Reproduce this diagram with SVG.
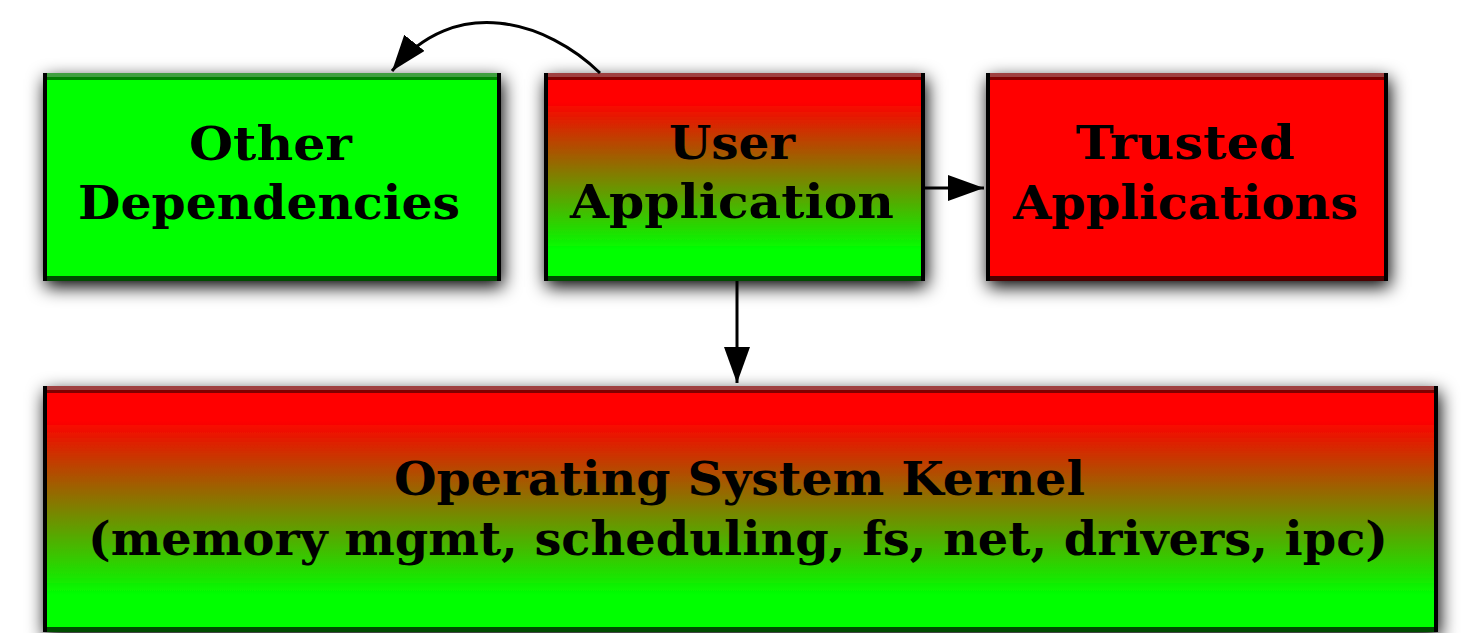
<svg xmlns="http://www.w3.org/2000/svg" width="1461" height="633" viewBox="0 0 1461 633">
  <defs>
    <style>
      .lbl { font-family: "DejaVu Serif", "Liberation Serif", serif; font-weight: bold; font-size: 46px; fill: #000; }
      .edge { fill: none; stroke: #000; stroke-width: 3; }
      .side { fill: #000; }
      .topband { fill: #000; opacity: 0.5; }
      .topedge { fill: #fff; opacity: 0.25; }
      .botband { fill: #000; opacity: 0.7; }
    </style>
    <!-- soft shadow under every box -->
    <filter id="shadow" x="-10%" y="-25%" width="120%" height="155%">
      <feGaussianBlur in="SourceAlpha" stdDeviation="9"/>
      <feOffset dx="2" dy="6" result="blur"/>
      <feComponentTransfer><feFuncA type="linear" slope="1"/></feComponentTransfer>
      <feMerge><feMergeNode/><feMergeNode in="SourceGraphic"/></feMerge>
    </filter>
    <!-- red at the top fading to green at the bottom -->
    <linearGradient id="redGreen" x1="0" y1="0" x2="0" y2="1">
      <stop offset="0.14" stop-color="#ff0000"/>
      <stop offset="0.85" stop-color="#00ff00"/>
    </linearGradient>
    <marker id="head" markerUnits="userSpaceOnUse" markerWidth="38" markerHeight="28" refX="36" refY="13" orient="auto">
      <path d="M0,0 L36,13 L0,26 z" fill="#000"/>
    </marker>
  </defs>
  <rect width="1461" height="633" fill="#fff"/>

  <g id="other-dependencies">
    <rect x="43" y="73" width="458" height="208" fill="#00ff00" filter="url(#shadow)"/>
    <rect class="topband" x="43" y="73" width="458" height="7"/>
    <rect class="topedge" x="43" y="73" width="458" height="4"/>
    <rect class="botband" x="43" y="276" width="458" height="5"/>
    <rect class="side" x="43" y="73" width="4" height="208"/>
    <rect class="side" x="497" y="73" width="4" height="208"/>
    <text class="lbl" x="189" y="160" textLength="163" lengthAdjust="spacingAndGlyphs">Other</text>
    <text class="lbl" x="78" y="219" textLength="382" lengthAdjust="spacingAndGlyphs">Dependencies</text>
  </g>

  <g id="user-application">
    <rect x="544" y="73" width="381" height="208" fill="url(#redGreen)" filter="url(#shadow)"/>
    <rect class="topband" x="544" y="73" width="381" height="7"/>
    <rect class="topedge" x="544" y="73" width="381" height="4"/>
    <rect class="botband" x="544" y="276" width="381" height="5"/>
    <rect class="side" x="544" y="73" width="4" height="208"/>
    <rect class="side" x="921" y="73" width="4" height="208"/>
    <text class="lbl" x="669" y="159" textLength="126" lengthAdjust="spacingAndGlyphs">User</text>
    <text class="lbl" x="570" y="218" textLength="324" lengthAdjust="spacingAndGlyphs">Application</text>
  </g>

  <g id="trusted-applications">
    <rect x="986" y="73" width="402" height="208" fill="#ff0000" filter="url(#shadow)"/>
    <rect class="topband" x="986" y="73" width="402" height="7"/>
    <rect class="topedge" x="986" y="73" width="402" height="4"/>
    <rect class="botband" x="986" y="276" width="402" height="5"/>
    <rect class="side" x="986" y="73" width="4" height="208"/>
    <rect class="side" x="1384" y="73" width="4" height="208"/>
    <text class="lbl" x="1076" y="159" textLength="219" lengthAdjust="spacingAndGlyphs">Trusted</text>
    <text class="lbl" x="1013" y="219" textLength="345" lengthAdjust="spacingAndGlyphs">Applications</text>
  </g>

  <g id="kernel">
    <rect x="43" y="386" width="1395" height="246" fill="url(#redGreen)" filter="url(#shadow)"/>
    <rect class="topband" x="43" y="386" width="1395" height="7"/>
    <rect class="topedge" x="43" y="386" width="1395" height="4"/>
    <rect class="botband" x="43" y="627" width="1395" height="5"/>
    <rect class="side" x="43" y="386" width="4" height="246"/>
    <rect class="side" x="1434" y="386" width="4" height="246"/>
    <text class="lbl" x="394" y="495" textLength="691" lengthAdjust="spacingAndGlyphs">Operating System Kernel</text>
    <text class="lbl" x="88" y="555" textLength="1300" lengthAdjust="spacingAndGlyphs">(memory mgmt, scheduling, fs, net, drivers, ipc)</text>
  </g>

  <g id="connectors">
    <path class="edge" d="M600,73 C548,22 455,-8 392,71" marker-end="url(#head)"/>
    <path class="edge" d="M925,188 L984,188" marker-end="url(#head)"/>
    <path class="edge" d="M737,281 L737,383" marker-end="url(#head)"/>
  </g>
</svg>
